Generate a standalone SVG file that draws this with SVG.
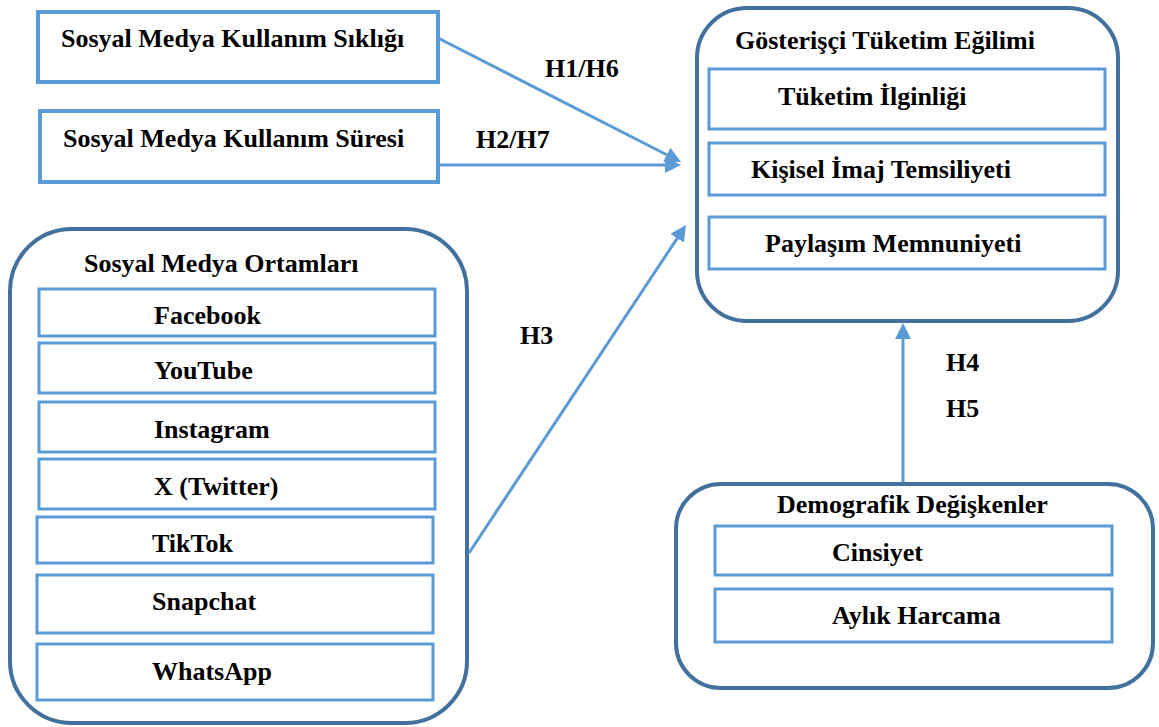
<svg xmlns="http://www.w3.org/2000/svg" width="1159" height="727" viewBox="0 0 1159 727">
<style>
text{font-family:"Liberation Serif","Times New Roman",serif;font-weight:bold;font-size:26px;fill:#000}
.outer{fill:none;stroke:#41719C;stroke-width:4}
.box{fill:#fff;stroke:#5B9BD5;stroke-width:3}
.tbox{fill:#fff;stroke:#5B9BD5;stroke-width:4}
.conn{fill:none;stroke:#5B9BD5;stroke-width:3}
</style>
<defs>
<marker id="arr" viewBox="0 0 16 16" markerUnits="userSpaceOnUse" markerWidth="16" markerHeight="16" refX="6" refY="8" orient="auto">
<path d="M0,0 L16,8 L0,16 z" fill="#5B9BD5"/>
</marker>
</defs>
<rect width="1159" height="727" fill="#fff"/>

<g id="siklik">
<rect class="tbox" x="38" y="12" width="400" height="70"/>
<text x="61" y="47">Sosyal Medya Kullanım Sıklığı</text>
</g>

<g id="sure">
<rect class="tbox" x="40" y="111" width="398" height="71"/>
<text x="63" y="147">Sosyal Medya Kullanım Süresi</text>
</g>

<g id="gosterisci">
<rect class="outer" x="697" y="8" width="421" height="313" rx="50" ry="50"/>
<text x="735" y="49">Gösterişçi Tüketim Eğilimi</text>
<rect class="box" x="709" y="69" width="396" height="60"/>
<text x="778" y="105">Tüketim İlginliği</text>
<rect class="box" x="709" y="143" width="396" height="52"/>
<text x="751" y="178">Kişisel İmaj Temsiliyeti</text>
<rect class="box" x="709" y="217" width="396" height="52"/>
<text x="765" y="252">Paylaşım Memnuniyeti</text>
</g>

<g id="ortamlar">
<rect class="outer" x="10" y="229" width="457" height="494" rx="62" ry="62"/>
<text x="84" y="272">Sosyal Medya Ortamları</text>
<rect class="box" x="39" y="289" width="396" height="47"/>
<text x="154" y="324">Facebook</text>
<rect class="box" x="39" y="343" width="396" height="50"/>
<text x="154" y="379">YouTube</text>
<rect class="box" x="39" y="402" width="396" height="50"/>
<text x="154" y="438">Instagram</text>
<rect class="box" x="39" y="459" width="396" height="50"/>
<text x="154" y="495">X (Twitter)</text>
<rect class="box" x="37" y="517" width="396" height="46"/>
<text x="152" y="552">TikTok</text>
<rect class="box" x="37" y="575" width="396" height="58"/>
<text x="152" y="610">Snapchat</text>
<rect class="box" x="37" y="644" width="396" height="56"/>
<text x="152" y="680">WhatsApp</text>
</g>

<g id="demografik">
<rect class="outer" x="676" y="484" width="477" height="204" rx="45" ry="45"/>
<text x="777" y="513">Demografik Değişkenler</text>
<rect class="box" x="715" y="526" width="397" height="49"/>
<text x="832" y="561">Cinsiyet</text>
<rect class="box" x="715" y="589" width="397" height="53"/>
<text x="832" y="624">Aylık Harcama</text>
</g>

<g id="connectors">
<line class="conn" x1="438" y1="38" x2="672.1" y2="157.5" marker-end="url(#arr)"/>
<line class="conn" x1="438" y1="165" x2="671" y2="165" marker-end="url(#arr)"/>
<line class="conn" x1="469" y1="553" x2="680.5" y2="233.3" marker-end="url(#arr)"/>
<line class="conn" x1="903" y1="482" x2="903" y2="333" marker-end="url(#arr)"/>
<text x="545" y="77">H1/H6</text>
<text x="476" y="148">H2/H7</text>
<text x="520" y="344">H3</text>
<text x="946" y="371">H4</text>
<text x="946" y="417">H5</text>
</g>
</svg>
